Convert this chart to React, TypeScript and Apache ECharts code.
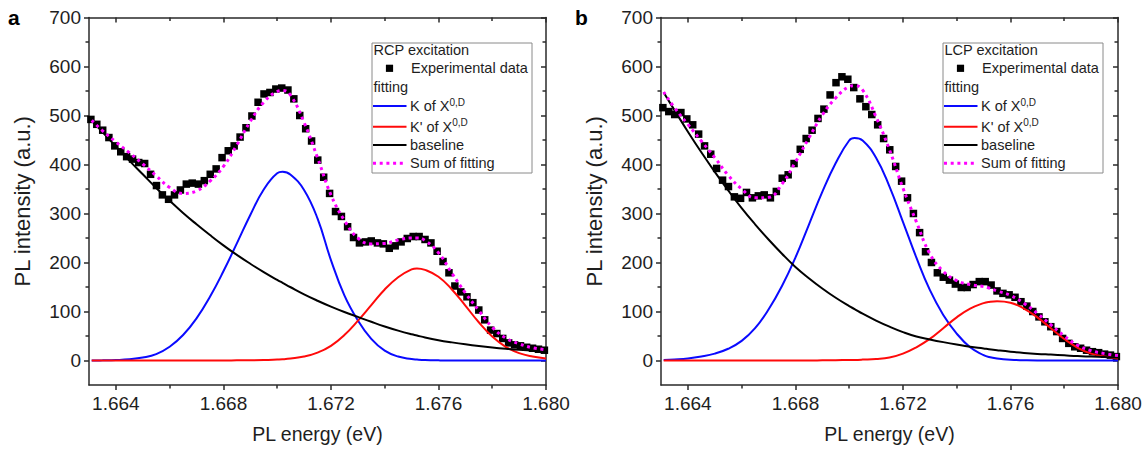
import React, { useEffect, useRef } from 'react';
import * as echarts from 'echarts';

const FONT = '"Liberation Sans", Arial, Helvetica, sans-serif';

// ---------- axis definitions ----------
const X_MIN = 1.663;
const X_MAX = 1.68;
const Y_MIN = -50;
const Y_MAX = 700;
const X_MAJOR = [1.664, 1.668, 1.672, 1.676, 1.68];
const X_MINOR = [1.666, 1.67, 1.674, 1.678];
const Y_MAJOR = [0, 100, 200, 300, 400, 500, 600, 700];
const Y_MINOR = [50, 150, 250, 350, 450, 550, 650];

const X_NAME = 'PL energy (eV)';
const Y_NAME = 'PL intensity (a.u.)';
const LETTERS = ['a', 'b'];
const TITLES = ['RCP excitation', 'LCP excitation'];
const LEGEND_ITEMS = ['Experimental data', 'fitting', 'K of X', "K' of X", 'baseline', 'Sum of fitting'];
const SUPERSCRIPT = '0,D';

// ---------- experimental data (shared energy sampling) ----------
const EXP_X = [
  1.66307, 1.66329, 1.66351, 1.66374, 1.66396, 1.66418, 1.6644, 1.66462, 1.66485, 1.66507,
  1.66529, 1.66551, 1.66573, 1.66596, 1.66618, 1.6664, 1.66662, 1.66684, 1.66707, 1.66729,
  1.66751, 1.66773, 1.66795, 1.66818, 1.6684, 1.66862, 1.66884, 1.66906, 1.66929, 1.66951,
  1.66973, 1.66995, 1.67017, 1.6704, 1.67062, 1.67084, 1.67106, 1.67128, 1.67151, 1.67173,
  1.67195, 1.67217, 1.67239, 1.67262, 1.67284, 1.67306, 1.67328, 1.6735, 1.67373, 1.67395,
  1.67417, 1.67439, 1.67461, 1.67484, 1.67506, 1.67528, 1.6755, 1.67572, 1.67595, 1.67617,
  1.67639, 1.67661, 1.67683, 1.67706, 1.67728, 1.6775, 1.67772, 1.67794, 1.67817, 1.67839,
  1.67861, 1.67883, 1.67905, 1.67928, 1.6795, 1.67972, 1.67994,
];

const EXP_A = [
  492, 482, 470, 455, 438, 426, 416, 411, 404, 402,
  380, 357, 338, 329, 338, 348, 360, 362, 360, 367,
  380, 391, 414, 428, 438, 456, 475, 499, 527, 544,
  547, 554, 556, 552, 534, 500, 473, 448, 409, 374,
  341, 304, 294, 273, 251, 240, 242, 244, 240, 238,
  229, 234, 242, 249, 253, 253, 247, 240, 223, 202,
  179, 152, 140, 130, 118, 103, 83, 62, 55, 45,
  36, 32, 30, 27, 25, 23, 21,
];

const EXP_B = [
  516, 508, 502, 506, 493, 481, 462, 438, 421, 392,
  368, 355, 334, 331, 343, 332, 336, 338, 332, 345,
  372, 379, 402, 431, 453, 470, 494, 513, 542, 567,
  579, 574, 557, 534, 518, 502, 481, 453, 430, 396,
  366, 332, 300, 261, 222, 200, 179, 170, 164, 156,
  149, 149, 155, 161, 161, 154, 142, 137, 134, 129,
  120, 111, 100, 89, 79, 69, 59, 45, 35, 28,
  25, 21, 18, 16, 13, 11, 8,
];

// ---------- fitted curves (read at these energies) ----------
const FIT_X = [
  1.6631, 1.6635, 1.664, 1.6645, 1.665, 1.6655, 1.666, 1.6665, 1.667, 1.6675,
  1.668, 1.6685, 1.669, 1.6695, 1.67, 1.6702, 1.6705, 1.671, 1.6715, 1.672,
  1.6725, 1.673, 1.6735, 1.674, 1.6745, 1.675, 1.6752, 1.6755, 1.676, 1.6765,
  1.677, 1.6775, 1.678, 1.6785, 1.679, 1.6795, 1.68,
];

const BLUE_A = [
  0, 0.3, 1, 2.5, 6, 13, 28, 52, 86, 130,
  182, 239, 297, 349, 382, 385, 379, 348, 290, 205,
  133, 82, 44, 20, 8, 3, 2, 1, 0.3, 0,
  0, 0, 0, 0, 0, 0, 0,
];
const RED_A = [
  0, 0, 0, 0, 0, 0, 0, 0, 0, 0,
  0, 0.3, 0.5, 1, 2, 2.5, 4, 8, 16, 30,
  52, 81, 113, 145, 170, 186, 188, 185, 171, 145,
  112, 78, 49, 28, 15, 8, 4,
];
const BASE_A = [
  490, 466, 437, 408, 380, 352, 326, 301, 278, 256,
  235, 215.5, 197.5, 180.5, 164.5, 158.5, 149.5, 135, 122, 110,
  99, 89, 79, 69.5, 61, 53.5, 51, 47, 41.5, 37,
  33, 29.5, 26.5, 24, 22, 20.5, 19,
];
const SUM_A = [
  490, 469, 446, 424, 401, 377, 353, 341, 346, 366,
  396, 440, 488, 527, 549, 551, 541, 486, 414, 338,
  286, 250, 238, 239, 246, 250, 250, 245, 220, 178,
  138, 102, 68, 46, 34, 26, 22,
];

const BLUE_B = [
  1, 2, 4, 8, 14, 24, 40, 66, 104, 152,
  210, 277, 344, 403, 449, 454, 449, 414, 355, 283,
  210, 144, 93, 55, 27, 11, 7, 4, 1.5, 0.5,
  0, 0, 0, 0, 0, 0, 0,
];
const RED_B = [
  0, 0, 0, 0, 0, 0, 0, 0, 0, 0,
  0, 0, 0.3, 0.6, 1, 1.2, 1.8, 3, 6, 14,
  27, 44, 66, 88, 106, 117, 119.5, 121, 118, 106,
  88, 66, 44, 26, 14, 8, 4,
];
const BASE_B = [
  547, 511, 467, 425, 385, 347, 311, 278, 247, 218,
  191, 168, 147, 128, 111, 105, 95.5, 81.5, 69, 58,
  49, 43, 37.5, 32.5, 28, 24.5, 23, 21, 18, 15.5,
  13.5, 12, 10.5, 9, 8, 7, 6,
];
const SUM_B = [
  548, 516, 482, 448, 414, 378, 350, 332, 333, 360,
  405, 454, 501, 536, 559, 561, 552, 497, 430, 352,
  283, 218, 182, 163, 155, 151, 148, 142, 133, 117,
  96, 73, 50, 31, 20, 14, 10,
];

const PANELS = [
  { exp: EXP_A, blue: BLUE_A, red: RED_A, base: BASE_A, sum: SUM_A },
  { exp: EXP_B, blue: BLUE_B, red: RED_B, base: BASE_B, sum: SUM_B },
];

// ---------- layout / style ----------
const GRID_LEFT = [89, 661];
const GRID_TOP = 17.5;
const GRID_W = 457;
const GRID_H = 367.5;
const LEGEND_LEFT = [372, 943];
const LETTER_X = [8, 575];
const AX = '#2a2a2a';
const TXT = '#1e1e1e';
const C_BLUE = '#0a0aff';
const C_RED = '#ff0a0a';
const C_BLACK = '#000000';
const C_MAG = '#ff00ff';

const zip = (xs: number[], ys: number[]) => xs.map((x, i) => [x, ys[i]]);

function xAxes(p: number) {
  const mk = (position: string, vals: number[], inside: boolean, len: number, labels: boolean, line: boolean, name: boolean) => ({
    type: 'value',
    gridIndex: p,
    position,
    min: X_MIN,
    max: X_MAX,
    name: name ? X_NAME : '',
    nameLocation: 'middle',
    nameGap: 39,
    nameTextStyle: { fontSize: 19.5, color: TXT, fontFamily: FONT },
    axisLine: { show: line, onZero: false, lineStyle: { color: AX, width: 1.5 } },
    axisTick: { show: true, inside, length: len, customValues: vals, lineStyle: { color: AX, width: 1.5 } },
    axisLabel: {
      show: labels,
      customValues: X_MAJOR,
      formatter: (v: number) => v.toFixed(3),
      fontSize: 19,
      color: TXT,
      fontFamily: FONT,
      margin: 9,
    },
    splitLine: { show: false },
    minorTick: { show: false },
  });
  return [
    mk('bottom', X_MAJOR, false, 5, true, true, true),
    mk('bottom', X_MINOR, false, 3.5, false, false, false),
    mk('top', X_MAJOR, true, 5, false, true, false),
    mk('top', X_MINOR, true, 3.5, false, false, false),
  ];
}

function yAxes(p: number) {
  const mk = (position: string, vals: number[], inside: boolean, len: number, labels: boolean, line: boolean, name: boolean) => ({
    type: 'value',
    gridIndex: p,
    position,
    min: Y_MIN,
    max: Y_MAX,
    name: name ? Y_NAME : '',
    nameLocation: 'middle',
    nameGap: 56,
    nameTextStyle: { fontSize: 22, color: TXT, fontFamily: FONT },
    axisLine: { show: line, onZero: false, lineStyle: { color: AX, width: 1.5 } },
    axisTick: { show: true, inside, length: len, customValues: vals, lineStyle: { color: AX, width: 1.5 } },
    axisLabel: {
      show: labels,
      customValues: Y_MAJOR,
      formatter: (v: number) => String(v),
      fontSize: 19,
      color: TXT,
      fontFamily: FONT,
      margin: 8,
    },
    splitLine: { show: false },
    minorTick: { show: false },
  });
  return [
    mk('left', Y_MAJOR, false, 5, true, true, true),
    mk('left', Y_MINOR, false, 3.5, false, false, false),
    mk('right', Y_MAJOR, true, 5, false, true, false),
    mk('right', Y_MINOR, true, 3.5, false, false, false),
  ];
}

function panelSeries(p: number) {
  const d = PANELS[p];
  const ax = { xAxisIndex: 4 * p, yAxisIndex: 4 * p };
  const line = (name: string, ys: number[], color: string, z: number, extra: any = {}) => ({
    type: 'line',
    name,
    ...ax,
    data: zip(FIT_X, ys),
    smooth: 0.45,
    showSymbol: false,
    symbol: 'none',
    z,
    lineStyle: { color, width: 2, ...extra },
    clip: true,
  });
  return [
    {
      type: 'scatter',
      name: LEGEND_ITEMS[0],
      ...ax,
      data: zip(EXP_X, d.exp),
      symbol: 'rect',
      symbolSize: 7.5,
      itemStyle: { color: '#000', opacity: 1 },
      z: 2,
    },
    line(LEGEND_ITEMS[2], d.blue, C_BLUE, 3),
    line(LEGEND_ITEMS[3], d.red, C_RED, 3),
    line(LEGEND_ITEMS[4], d.base, C_BLACK, 3),
    line(LEGEND_ITEMS[5], d.sum, C_MAG, 4, { width: 3, type: [3, 3.7], cap: 'butt' }),
  ];
}

function legendGraphic(p: number) {
  const L = LEGEND_LEFT[p];
  const txt = (x: number, y: number, text: string) => ({
    type: 'text',
    x,
    y,
    silent: true,
    style: { text, fontSize: 14.5, fontFamily: FONT, fill: TXT, align: 'left', verticalAlign: 'middle' },
  });
  const sup = (x: number, y: number, base: string) => ({
    type: 'text',
    x,
    y,
    silent: true,
    style: {
      text: `{m|${base}}{s|${SUPERSCRIPT}}`,
      align: 'left',
      verticalAlign: 'middle',
      rich: {
        m: { fontSize: 14.5, fontFamily: FONT, fill: TXT, lineHeight: 18 },
        s: { fontSize: 10, fontFamily: FONT, fill: TXT, lineHeight: 10, verticalAlign: 'top' },
      },
    },
  });
  const seg = (y: number, color: string, dash?: number[]) => ({
    type: 'line',
    silent: true,
    shape: { x1: L + 1, y1: y, x2: L + 34.5, y2: y },
    style: { stroke: color, lineWidth: dash ? 3 : 2, lineDash: dash || null },
  });
  const rows = [50, 68.3, 86.7, 106, 126.7, 145, 163.3];
  return [
    {
      type: 'rect',
      silent: true,
      shape: { x: L, y: 43, width: 160, height: 130 },
      style: { fill: '#fff', stroke: '#8a8a8a', lineWidth: 1 },
      z: 10,
    },
    { ...txt(L + 1.5, rows[0], TITLES[p]), z: 11 },
    {
      type: 'rect',
      silent: true,
      shape: { x: L + 17.5 - 3.6, y: rows[1] - 3.6, width: 7.2, height: 7.2 },
      style: { fill: '#000' },
      z: 11,
    },
    { ...txt(L + 39, rows[1], LEGEND_ITEMS[0]), z: 11 },
    { ...txt(L + 1.5, rows[2], LEGEND_ITEMS[1]), z: 11 },
    { ...seg(rows[3], C_BLUE), z: 11 },
    { ...sup(L + 38, rows[3], LEGEND_ITEMS[2]), z: 11 },
    { ...seg(rows[4], C_RED), z: 11 },
    { ...sup(L + 38, rows[4], LEGEND_ITEMS[3]), z: 11 },
    { ...seg(rows[5], C_BLACK), z: 11 },
    { ...txt(L + 38, rows[5], LEGEND_ITEMS[4]), z: 11 },
    { ...seg(rows[6], C_MAG, [3, 3.7]), z: 11 },
    { ...txt(L + 38, rows[6], LEGEND_ITEMS[5]), z: 11 },
    {
      type: 'text',
      x: LETTER_X[p],
      y: 17,
      silent: true,
      style: { text: LETTERS[p], fontSize: 21, fontWeight: 'bold', fontFamily: FONT, fill: '#000', align: 'left', verticalAlign: 'middle' },
      z: 11,
    },
  ];
}

export default function App() {
  const ref = useRef<HTMLDivElement>(null);
  useEffect(() => {
    if (!ref.current) return;
    const chart = echarts.init(ref.current, undefined, { renderer: 'svg' });
    const option: any = {
      animation: false,
      backgroundColor: '#ffffff',
      textStyle: { fontFamily: FONT },
      grid: [0, 1].map((p) => ({ left: GRID_LEFT[p], top: GRID_TOP, width: GRID_W, height: GRID_H, containLabel: false })),
      xAxis: [...xAxes(0), ...xAxes(1)],
      yAxis: [...yAxes(0), ...yAxes(1)],
      series: [...panelSeries(0), ...panelSeries(1)],
      graphic: { elements: [...legendGraphic(0), ...legendGraphic(1)] },
    };
    chart.setOption(option);
    return () => chart.dispose();
  }, []);
  return <div ref={ref} style={{ position: 'fixed', left: 0, top: 0, width: 1146, height: 452, background: '#fff' }} />;
}
